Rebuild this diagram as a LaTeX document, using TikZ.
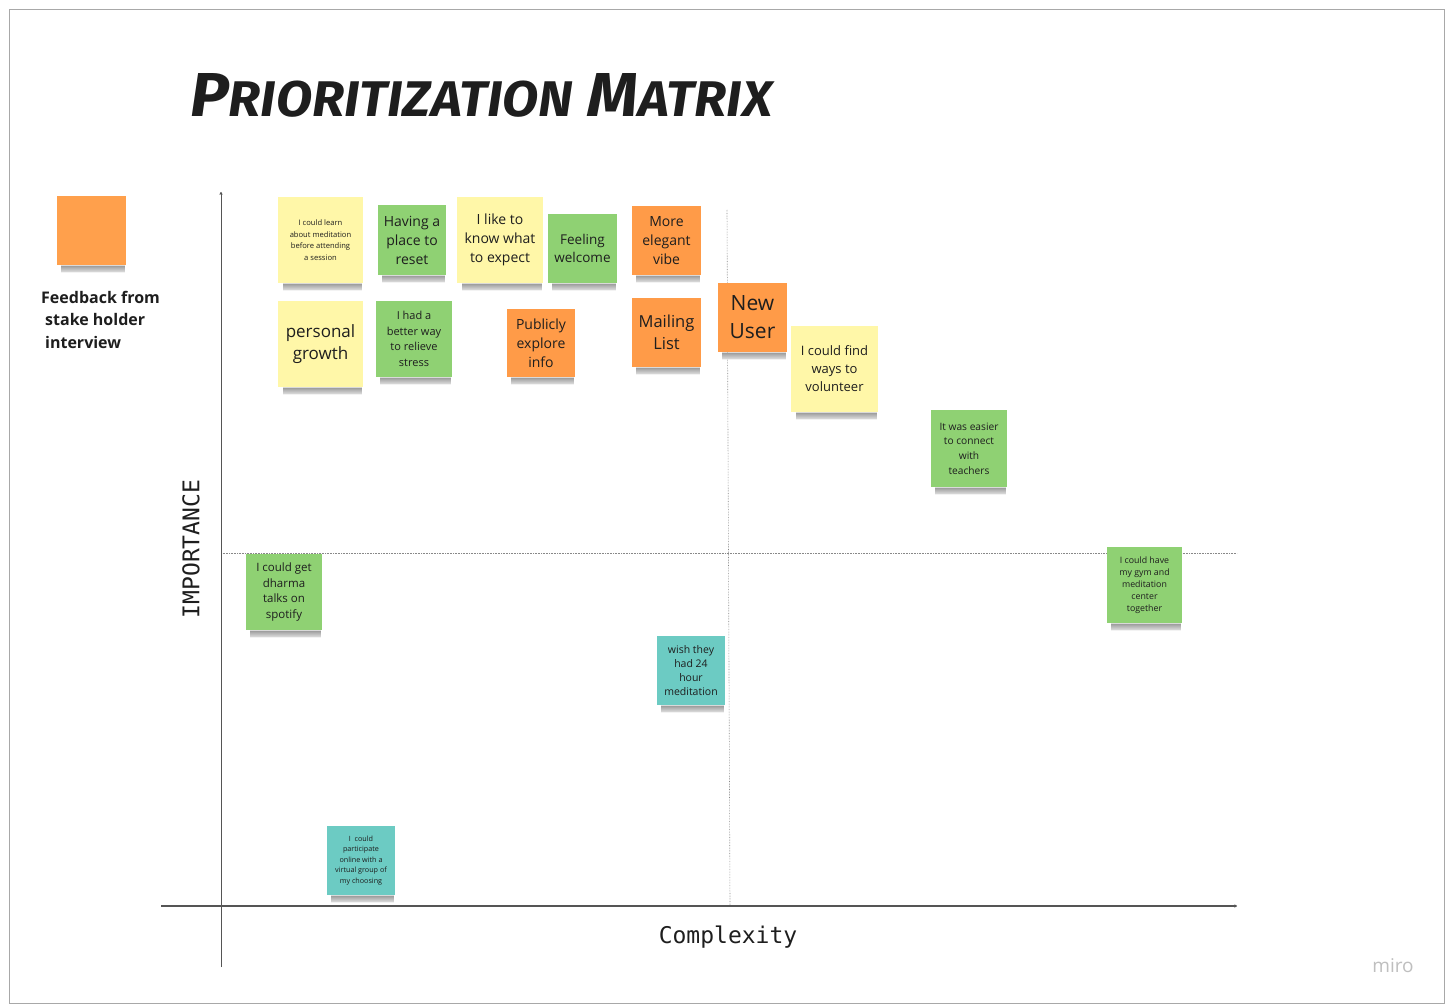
\documentclass[tikz,border=0pt]{standalone}
\usepackage{fontspec}
\usepackage{graphicx}
\setmainfont{Open Sans}
\newfontfamily\titlefont{Fira Sans}
\newfontfamily\monofont{DejaVu Sans Mono}
\usetikzlibrary{arrows.meta,fadings}
\definecolor{styellow}{HTML}{FFF7A8}
\definecolor{stgreen}{HTML}{8FD173}
\definecolor{storange}{HTML}{FF9B48}
\definecolor{stteal}{HTML}{6CCBC3}
\definecolor{legorange}{HTML}{FFA04C}
\definecolor{ink}{HTML}{1E1E1E}
\definecolor{axisgray}{HTML}{555555}
\definecolor{framegray}{HTML}{A8A8A8}
\begin{tikzfadingfrompicture}[name=sidefade]
  \shade[left color=transparent!100, right color=transparent!0] (0,0) rectangle (2.5,1);
  \fill[transparent!0] (2.5,0) rectangle (8.5,1);
  \shade[left color=transparent!0, right color=transparent!100] (8.5,0) rectangle (10,1);
\end{tikzfadingfrompicture}
\tikzset{
  stickybox/.style={draw=none, inner sep=1pt, align=center, text=ink},
  axisline/.style={draw=axisgray, line width=0.9pt, -{To[length=3pt,width=3pt]}},
  guide/.style={draw=axisgray!70, line width=0.6pt, densely dotted},
  axislabel/.style={font=\monofont\fontsize{23}{26}\selectfont, text=ink, inner sep=0pt},
}
\newcommand{\sticky}[9]{%
  \shade[top color=black!50, bottom color=white, path fading=sidefade, fit fading=true]
    ({#2-0.44*#4},{#3+#5/2-2}) rectangle ({#2+0.48*#4},{#3+#5/2+10});
  \node[stickybox, fill=#6, minimum width=#4pt, minimum height=#5pt,
        font=\fontsize{#7}{#8}\selectfont] (#1) at (#2,#3) {#9};
}
\begin{document}
\begin{tikzpicture}[x=1pt,y=-1pt]
\useasboundingbox (0,0) rectangle (1450,1008);
\fill[white] (0,0) rectangle (1450,1008);
\draw[framegray, line width=0.8pt] (9,9) rectangle (1444,1003);

% title
\node[anchor=south west, inner sep=0pt, text=ink] (title) at (190,118)
  {\resizebox{582pt}{43pt}{\titlefont\bfseries\itshape\fontsize{52}{52}\selectfont P\fontsize{42}{42}\selectfont RIORITIZATION\fontsize{52}{52}\selectfont{} M\fontsize{42}{42}\selectfont ATRIX}};

% legend
\sticky{legend}{91.5}{230.5}{69}{69}{legorange}{10}{12}{}
\node[anchor=north west, inner sep=0pt, align=left, text=ink,
      font=\bfseries\fontsize{16}{22.5}\selectfont] (legtext) at (41,291)
  {Feedback from\\\hspace*{4pt}stake holder\\\hspace*{4pt}interview};

% axes and guides
\coordinate (yb) at (221,967);
\coordinate (yt) at (221,192);
\coordinate (xl) at (161,906);
\coordinate (xr) at (1237,906);
\coordinate (hl) at (221,553);
\coordinate (hr) at (1237,553);
\coordinate (vt) at (727,210);
\coordinate (vb) at (730,906);
\draw[guide] (hl) -- (hr);
\draw[guide] (vt) -- (vb);
\draw[axisline] (yb) -- (yt);
\draw[axisline, line width=1.1pt] (xl) -- (xr);

\node[axislabel, rotate=90] (ylab) at (191,549) {IMPORTANCE};
\node[axislabel] (xlab) at (728,937) {Complexity};
\node[text=black!25, font=\fontsize{19}{20}\selectfont, inner sep=0pt] (miro) at (1393,966) {miro};

% stickies
\sticky{s1}{320.5}{240}{85}{86}{styellow}{7.6}{11.5}{I could learn\\about meditation\\before attending\\a session}
\sticky{s2}{412}{240}{68}{70}{stgreen}{14}{19}{Having a\\place to\\reset}
\sticky{s3}{500}{240}{86}{86}{styellow}{14}{19}{I like to\\know what\\to expect}
\sticky{s4}{582.5}{248.5}{69}{69}{stgreen}{13.5}{18}{Feeling\\welcome}
\sticky{s5}{666.5}{240.5}{69}{69}{storange}{14}{19}{More\\elegant\\vibe}
\sticky{s6}{320.5}{344}{85}{86}{styellow}{17}{22}{personal\\growth}
\sticky{s7}{414}{339}{76}{76}{stgreen}{11}{15.7}{I had a\\better way\\to relieve\\stress}
\sticky{s8}{541}{343}{68}{68}{storange}{14}{19}{Publicly\\explore\\info}
\sticky{s9}{666.5}{332.5}{69}{69}{storange}{16.5}{22}{Mailing\\List}
\sticky{s10}{752.5}{317.5}{69}{69}{storange}{21}{28}{New\\User}
\sticky{s11}{834.5}{369}{87}{86}{styellow}{13}{18}{I could find\\ways to\\volunteer}
\sticky{s12}{969}{448.5}{76}{77}{stgreen}{10.2}{14.7}{It was easier\\to connect\\with\\teachers}
\sticky{s13}{284}{592}{76}{76}{stgreen}{11.5}{15.7}{I could get\\dharma\\talks on\\spotify}
\sticky{s14}{1144.5}{585}{75}{76}{stgreen}{8.8}{12}{I could have\\my gym and\\meditation\\center\\together}
\sticky{s15}{691}{670.5}{68}{69}{stteal}{10.5}{14.2}{wish they\\had 24\\hour\\meditation}
\sticky{s16}{361}{860.5}{68}{69}{stteal}{7.2}{10.4}{I\ \ could\\participate\\online with a\\virtual group of\\my choosing}
\end{tikzpicture}
\end{document}
